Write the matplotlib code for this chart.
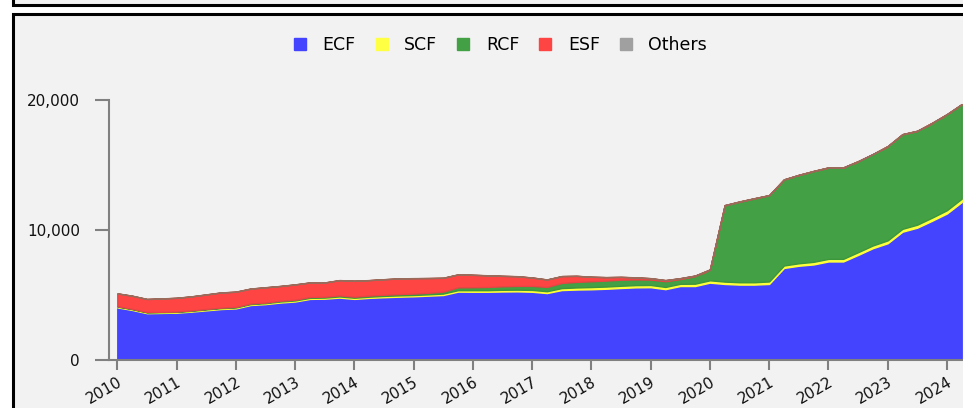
import matplotlib
matplotlib.use("Agg")
import matplotlib.pyplot as plt
from matplotlib.patches import Rectangle
from matplotlib.lines import Line2D
from matplotlib.ticker import FuncFormatter

# Quarterly points, 2010 Q1 .. 2024 Q2
years = [2010 + q / 4 for q in range(58)]

ECF = [4050, 3850, 3600, 3620, 3640, 3720, 3820, 3920, 3970, 4230, 4300, 4420,
       4500, 4700, 4720, 4800, 4700, 4780, 4830, 4870, 4900, 4950, 5000, 5260,
       5250, 5250, 5270, 5280, 5250, 5150, 5380, 5420, 5440, 5480, 5540, 5590,
       5600, 5450, 5690, 5690, 5950, 5850, 5800, 5800, 5850, 7080, 7250, 7350,
       7580, 7580, 8080, 8600, 8980, 9870, 10180, 10710, 11270, 12150]
SCF = [60, 60, 60, 60, 60, 60, 70, 70, 70, 70, 70, 80,
       80, 80, 80, 90, 90, 90, 100, 100, 100, 100, 110, 110,
       120, 120, 130, 130, 140, 140, 150, 160, 170, 170, 170, 170,
       170, 170, 170, 180, 180, 180, 180, 180, 190, 190, 190, 200,
       200, 200, 210, 210, 220, 220, 230, 240, 250, 260]
RCF = [30, 30, 30, 30, 30, 40, 40, 40, 50, 50, 50, 60,
       60, 70, 70, 80, 80, 90, 90, 100, 110, 120, 150, 220,
       230, 250, 270, 290, 310, 330, 400, 430, 450, 460, 470, 440,
       420, 440, 370, 580, 800, 5860, 6200, 6450, 6630, 6610, 6790, 6980,
       7020, 7020, 6990, 7020, 7240, 7270, 7210, 7280, 7380, 7260]
ESF = [980, 1000, 1000, 1020, 1050, 1070, 1110, 1160, 1160, 1140, 1170, 1130,
       1170, 1110, 1090, 1170, 1220, 1180, 1190, 1200, 1180, 1130, 1060, 990,
       950, 890, 800, 740, 640, 570, 520, 460, 340, 260, 210, 150,
       100, 80, 60, 40, 30, 20, 10, 10, 10, 10, 10, 10,
       10, 10, 10, 10, 10, 10, 10, 10, 10, 10]
OTHERS = [10] * 58

labels = ["ECF", "SCF", "RCF", "ESF", "Others"]
colors = ["#4444ff", "#ffff44", "#44a044", "#ff4444", "#a0a0a0"]
edges = ["#4444ff", "#ffff33", "#3c963c", "#e84444", "#9a6a5a"]
yticks = [0, 10000, 20000]
xticks = list(range(2010, 2025))

W, H = 963, 408
fig = plt.figure(figsize=(W / 100, H / 100), dpi=100, facecolor="white")

# Panel frames
fig.patches.append(Rectangle((12.5 / W, (H - 5) / H), 1.2, 0.3, transform=fig.transFigure,
                             facecolor="#f2f2f2", edgecolor="black", linewidth=2.2, clip_on=False, zorder=-10))
fig.patches.append(Rectangle((12.5 / W, -0.2), 1.2, 0.2 + (H - 14) / H, transform=fig.transFigure,
                             facecolor="#f2f2f2", edgecolor="black", linewidth=2.2, clip_on=False, zorder=-10))

ax = fig.add_axes([109 / W, 48 / H, 852.7 / W, 260 / H])
ax.set_zorder(5)
ax.patch.set_alpha(0)

polys = ax.stackplot(years, ECF, SCF, RCF, ESF, OTHERS, colors=colors, labels=labels,
                     edgecolor=None, linewidth=0)
for p, ec in zip(polys, edges):
    p.set_edgecolor(ec)
    p.set_linewidth(1.0)

ax.set_xlim(2009.86, 2024.25)
ax.set_ylim(0, 20000)
ax.set_yticks(yticks)
ax.yaxis.set_major_formatter(FuncFormatter(lambda v, p: f"{int(v):,}"))
ax.set_xticks(xticks)
ax.set_xticklabels([str(x) for x in xticks], rotation=30, ha="right", rotation_mode="anchor")

for s in ["top", "right"]:
    ax.spines[s].set_visible(False)
for s in ["left", "bottom"]:
    ax.spines[s].set_color("#808080")
    ax.spines[s].set_linewidth(1.5)
ax.tick_params(axis="y", length=10, width=1.5, color="#808080", pad=11, labelsize=11, labelcolor="#111111")
ax.tick_params(axis="x", length=7, width=1.5, color="#808080", pad=3, labelsize=11, labelcolor="#111111")

handles = [Line2D([0], [0], marker="s", linestyle="none", markersize=9,
                  markerfacecolor=c, markeredgecolor=c) for c in colors]
leg = fig.legend(handles, labels, loc="center", bbox_to_anchor=(500 / W, 1 - 45 / H), ncol=5,
                 frameon=False, fontsize=12.5, handlelength=0.8, handletextpad=0.9, columnspacing=1.1)
leg.set_zorder(6)

fig.savefig("out.png", dpi=100, facecolor="white")
